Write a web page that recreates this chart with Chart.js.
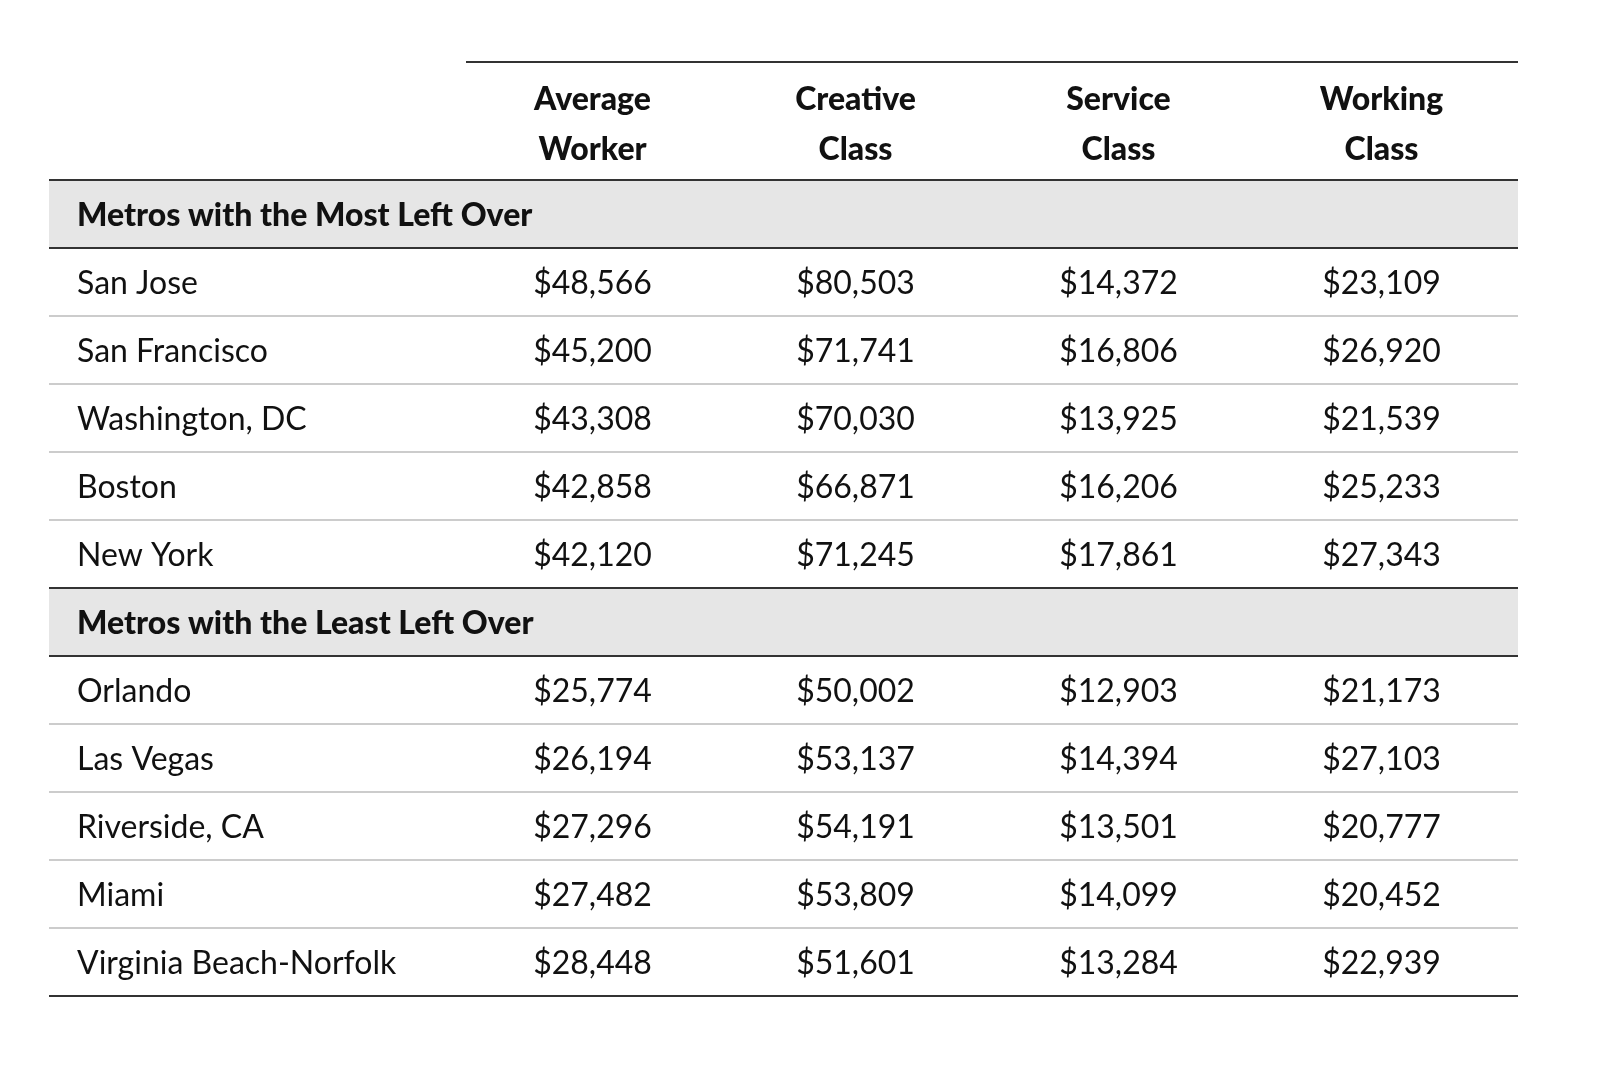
<!DOCTYPE html>
<html>
<head>
<meta charset="utf-8">
<script src="https://cdn.jsdelivr.net/npm/chart.js"></script>
<style>
  html, body { margin: 0; padding: 0; background: #fff; }
  canvas { display: block; }
</style>
</head>
<body>
<canvas id="table" width="1600" height="1081"></canvas>
<script>
// table contents
const columns = ["Average Worker", "Creative Class", "Service Class", "Working Class"];
const headerLines = [["Average", "Worker"], ["Creative", "Class"], ["Service", "Class"], ["Working", "Class"]];
const sections = ["Metros with the Most Left Over", "Metros with the Least Left Over"];
const mostMetros = ["San Jose", "San Francisco", "Washington, DC", "Boston", "New York"];
const mostValues = [
  ["$48,566", "$80,503", "$14,372", "$23,109"],
  ["$45,200", "$71,741", "$16,806", "$26,920"],
  ["$43,308", "$70,030", "$13,925", "$21,539"],
  ["$42,858", "$66,871", "$16,206", "$25,233"],
  ["$42,120", "$71,245", "$17,861", "$27,343"]
];
const leastMetros = ["Orlando", "Las Vegas", "Riverside, CA", "Miami", "Virginia Beach-Norfolk"];
const leastValues = [
  ["$25,774", "$50,002", "$12,903", "$21,173"],
  ["$26,194", "$53,137", "$14,394", "$27,103"],
  ["$27,296", "$54,191", "$13,501", "$20,777"],
  ["$27,482", "$53,809", "$14,099", "$20,452"],
  ["$28,448", "$51,601", "$13,284", "$22,939"]
];

// row list: section rows + metro rows
const rows = [sections[0], ...mostMetros, sections[1], ...leastMetros];
const cellValues = [null, ...mostValues, null, ...leastValues];

const LEFT = 49;
const BOLD = "900 32px Lato, 'Open Sans', sans-serif";
const BODY = "32px Lato, 'Open Sans', sans-serif";

const tablePlugin = {
  id: "tablePlugin",
  afterDraw(chart) {
    const { ctx, chartArea, scales: { x, y } } = chart;
    const rowH = y.getPixelForValue(1) - y.getPixelForValue(0);
    const right = chartArea.right;
    ctx.save();

    // section backgrounds
    rows.forEach((r, i) => {
      if (sections.includes(r)) {
        ctx.fillStyle = "#e6e6e6";
        ctx.fillRect(LEFT, y.getPixelForValue(i) - rowH / 2, right - LEFT, rowH);
      }
    });

    // top line
    ctx.strokeStyle = "#333";
    ctx.lineWidth = 2;
    ctx.beginPath();
    ctx.moveTo(chartArea.left, 62);
    ctx.lineTo(right, 62);
    ctx.stroke();

    // header
    ctx.fillStyle = "#111";
    ctx.font = BOLD;
    ctx.textAlign = "center";
    ctx.textBaseline = "middle";
    headerLines.forEach((lines, c) => {
      const cx = x.getPixelForValue(c) - 5;
      ctx.fillText(lines[0], cx, 100);
      ctx.fillText(lines[1], cx, 150);
    });

    // row separators
    for (let i = 0; i <= rows.length; i++) {
      const yy = y.getPixelForValue(0) + (i - 0.5) * rowH;
      const strong = i === 0 || i === rows.length || sections.includes(rows[i]) || sections.includes(rows[i - 1]);
      ctx.strokeStyle = strong ? "#333" : "#999";
      ctx.lineWidth = strong ? 2 : 1.2;
      ctx.beginPath();
      ctx.moveTo(LEFT, yy);
      ctx.lineTo(right, yy);
      ctx.stroke();
    }

    // cells
    rows.forEach((r, i) => {
      const cy = y.getPixelForValue(i) + 2;
      ctx.fillStyle = "#111";
      ctx.textAlign = "left";
      if (sections.includes(r)) {
        ctx.font = BOLD;
        ctx.fillText(r, 77, cy);
        return;
      }
      ctx.font = BODY;
      ctx.fillText(r, 77, cy);
      ctx.textAlign = "center";
      cellValues[i].forEach((v, c) => ctx.fillText(v, x.getPixelForValue(c) - 5, cy));
    });
    ctx.restore();
  }
};

new Chart(document.getElementById("table"), {
  type: "bar",
  data: { labels: columns, datasets: [{ data: [], backgroundColor: "transparent" }] },
  options: {
    responsive: false,
    animation: false,
    devicePixelRatio: 1,
    layout: { padding: { left: 466, right: 82, top: 180, bottom: 85 } },
    plugins: { legend: { display: false }, tooltip: { enabled: false } },
    scales: {
      x: { type: "category", labels: columns, display: false, offset: true },
      y: { type: "category", labels: rows, display: false, offset: true }
    }
  },
  plugins: [tablePlugin]
});
</script>
</body>
</html>
